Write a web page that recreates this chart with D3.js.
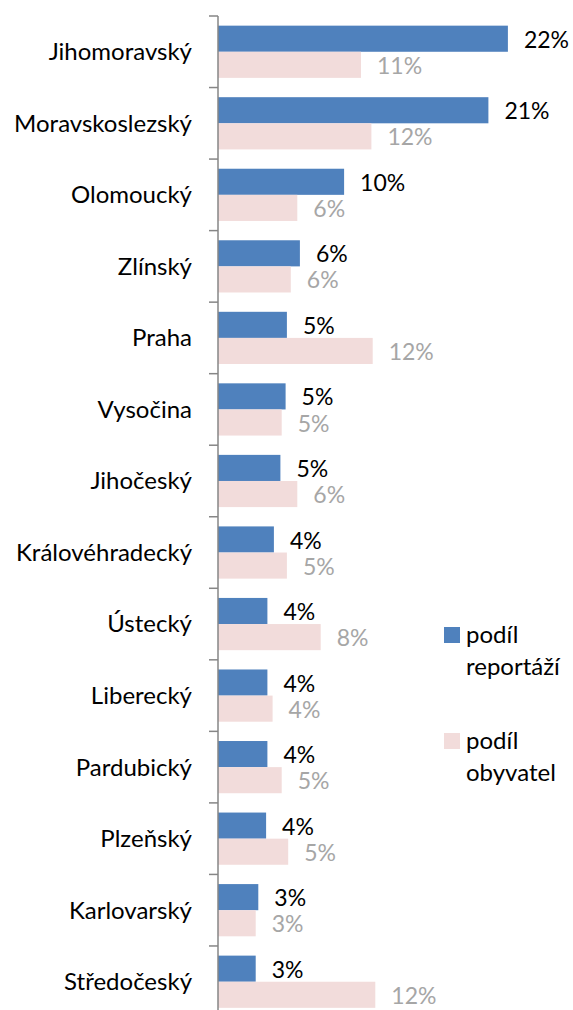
<!DOCTYPE html>
<html>
<head>
<meta charset="utf-8">
<script src="https://cdn.jsdelivr.net/npm/d3@7"></script>
<style>
  body { margin: 0; background: #fff; }
  text { font-family: Lato, "Open Sans", sans-serif; }
</style>
</head>
<body>
<div id="chart"></div>
<script>
const width = 573,
    height = 1010;

// kraje, shora dolu
const regions = ["Jihomoravský", "Moravskoslezský", "Olomoucký", "Zlínský", "Praha", "Vysočina",
  "Jihočeský", "Královéhradecký", "Ústecký", "Liberecký", "Pardubický", "Plzeňský",
  "Karlovarský", "Středočeský"];
// podíl reportáží
const reportShare = [0.223, 0.208, 0.097, 0.063, 0.053, 0.052, 0.048, 0.043, 0.038, 0.038, 0.038, 0.037, 0.031, 0.029];
// podíl obyvatel
const popShare = [0.110, 0.118, 0.061, 0.056, 0.119, 0.049, 0.061, 0.053, 0.079, 0.042, 0.049, 0.054, 0.029, 0.121];
const seriesNames = ["podíl reportáží", "podíl obyvatel"];
const colors = ["#4F81BD", "#F2DCDB"];
const labelColors = ["#000000", "#A6A6A6"];

const svg = d3.select("#chart")
  .append("svg")
  .attr("width", width)
  .attr("height", height);

const x = d3.scaleLinear()
  .domain([0, 0.25])
  .range([218, 543]);

const y = d3.scaleBand()
  .domain(regions)
  .range([16, 1017.5])
  .paddingInner(0.27)
  .paddingOuter(0.135);

const ySub = d3.scaleBand()
  .domain([0, 1])
  .range([0, y.bandwidth()]);

const data = regions.map((r, i) => ({region: r, values: [reportShare[i], popShare[i]]}));

const groups = svg.append("g")
  .selectAll("g")
  .data(data)
  .join("g")
    .attr("transform", d => `translate(0, ${y(d.region)})`);

groups.selectAll("rect")
  .data(d => d.values.map((v, k) => ({v: v, k: k})))
  .join("rect")
    .attr("x", x(0))
    .attr("y", d => ySub(d.k))
    .attr("width", d => x(d.v) - x(0))
    .attr("height", ySub.bandwidth())
    .attr("fill", d => colors[d.k]);

groups.selectAll("text")
  .data(d => d.values.map((v, k) => ({v: v, k: k})))
  .join("text")
    .attr("x", d => x(d.v) + 16)
    .attr("y", d => ySub(d.k) + ySub.bandwidth() / 2 + 1)
    .attr("dy", "0.35em")
    .attr("fill", d => labelColors[d.k])
    .style("font-size", "23px")
    .text(d => d3.format(".0%")(d.v));

// osa y s ryskami mezi kategoriemi
const axis = svg.append("g");
axis.append("line")
  .attr("x1", x(0)).attr("x2", x(0))
  .attr("y1", y.range()[0]).attr("y2", y.range()[1])
  .attr("stroke", "#868686")
  .attr("stroke-width", 1.5);

const step = y.step();
const tickPos = d3.range(regions.length + 1).map(i => y.range()[0] + i * step);
axis.selectAll(".tick")
  .data(tickPos)
  .join("line")
    .attr("class", "tick")
    .attr("x1", x(0) - 9).attr("x2", x(0))
    .attr("y1", d => d).attr("y2", d => d)
    .attr("stroke", "#868686")
    .attr("stroke-width", 1.5);

axis.selectAll(".cat")
  .data(regions)
  .join("text")
    .attr("class", "cat")
    .attr("x", 192)
    .attr("y", d => y(d) + y.bandwidth() / 2)
    .attr("dy", "0.35em")
    .attr("text-anchor", "end")
    .style("font-size", "24px")
    .text(d => d);

// legenda
const legend = svg.append("g")
  .selectAll("g")
  .data(seriesNames)
  .join("g")
    .attr("transform", (d, i) => `translate(444, ${627 + i * 106})`);

legend.append("rect")
  .attr("width", 16)
  .attr("height", 16)
  .attr("fill", (d, i) => colors[i]);

legend.append("text")
  .attr("x", 22)
  .attr("y", 16)
  .style("font-size", "24px")
  .selectAll("tspan")
  .data(d => [d.split(" ")[0], d.split(" ")[1]])
  .join("tspan")
    .attr("x", 22)
    .attr("dy", (d, i) => i === 0 ? 0 : 32)
    .text(d => d);
</script>
</body>
</html>
